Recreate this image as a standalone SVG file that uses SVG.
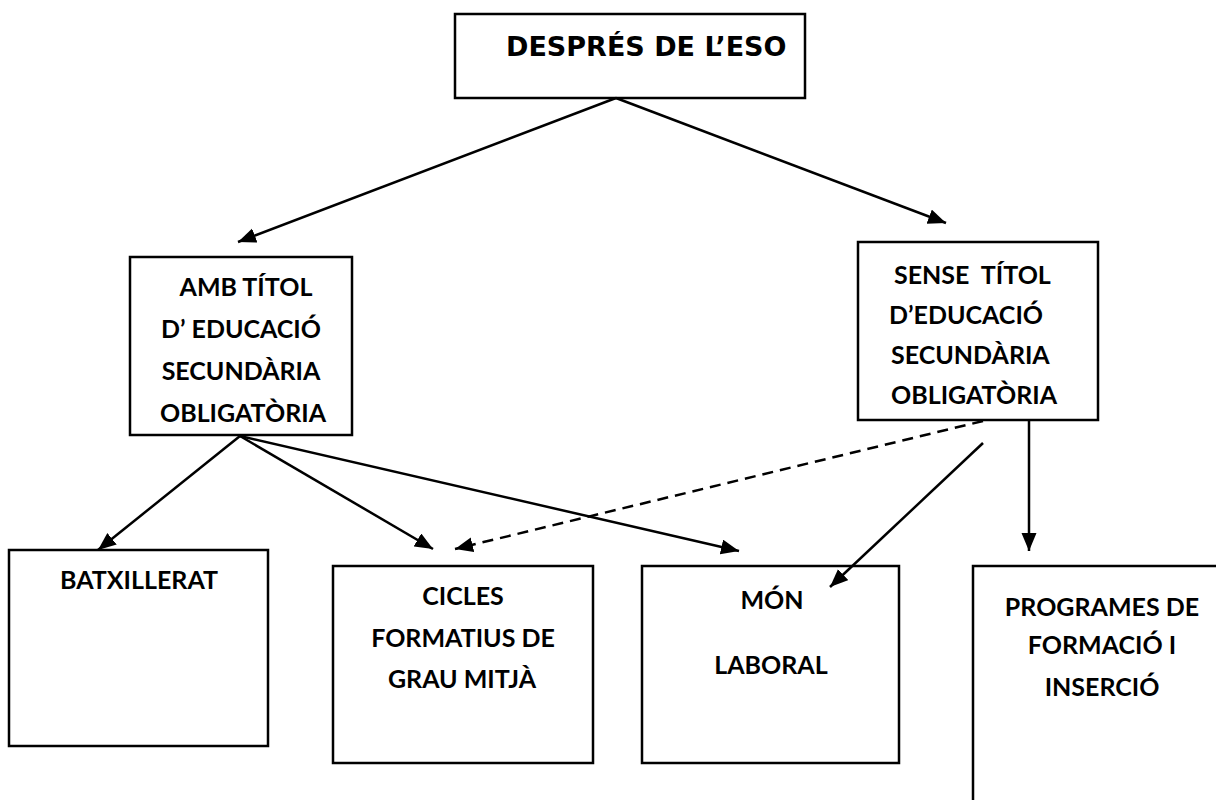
<svg xmlns="http://www.w3.org/2000/svg" width="1216" height="800" viewBox="0 0 1216 800">
<defs>
<marker id="ah" markerUnits="userSpaceOnUse" markerWidth="20" markerHeight="16" refX="18" refY="7.5" orient="auto">
<path d="M0,0 L18,7.5 L0,15 z" fill="#000"/>
</marker>
<style>
.box{fill:none;stroke:#000;stroke-width:2.5}
.t{font-family:Lato,"Liberation Sans",sans-serif;font-weight:bold;font-size:25px;fill:#000;text-anchor:middle}
.ts{font-family:Lato,"Liberation Sans",sans-serif;font-weight:bold;font-size:25px;fill:#000}
.big{font-family:"DejaVu Sans",Verdana,sans-serif;font-weight:bold;font-size:27px;fill:#000}
.c{fill:none;stroke:#000;stroke-width:2.5;marker-end:url(#ah)}
.d{stroke-dasharray:11,7}
</style>
</defs>
<rect width="1216" height="800" fill="#fff"/>
<g id="n-despres">
<rect class="box" x="455" y="14" width="350" height="84"/>
<text class="big" x="506" y="56">DESPRÉS DE L’ESO</text>
</g>
<g id="n-amb">
<rect class="box" x="130" y="257" width="222" height="178"/>
<text class="t" x="246" y="296">AMB TÍTOL</text>
<text class="t" x="241" y="338">D’ EDUCACIÓ</text>
<text class="t" x="241" y="380">SECUNDÀRIA</text>
<text class="t" x="243" y="422">OBLIGATÒRIA</text>
</g>
<g id="n-sense">
<rect class="box" x="858" y="242" width="240" height="178"/>
<text class="ts" x="894" y="284" xml:space="preserve">SENSE  TÍTOL</text>
<text class="ts" x="889" y="324">D’EDUCACIÓ</text>
<text class="ts" x="891" y="364">SECUNDÀRIA</text>
<text class="ts" x="891" y="404">OBLIGATÒRIA</text>
</g>
<g id="n-batx">
<rect class="box" x="9" y="550" width="259" height="196"/>
<text class="t" x="139" y="589">BATXILLERAT</text>
</g>
<g id="n-cicles">
<rect class="box" x="333" y="566" width="260" height="197"/>
<text class="t" x="463" y="605">CICLES</text>
<text class="t" x="463" y="647">FORMATIUS DE</text>
<text class="t" x="462" y="688">GRAU MITJÀ</text>
</g>
<g id="n-mon">
<rect class="box" x="642" y="566" width="257" height="197"/>
<text class="t" x="772" y="609">MÓN</text>
<text class="t" x="771" y="674">LABORAL</text>
</g>
<g id="n-programes">
<path class="box" d="M973,801 V566 H1217"/>
<text class="t" x="1102" y="616">PROGRAMES DE</text>
<text class="t" x="1102" y="654">FORMACIÓ I</text>
<text class="t" x="1102" y="696">INSERCIÓ</text>
</g>
<g id="connectors">
<line class="c" x1="616" y1="98" x2="238" y2="242"/>
<line class="c" x1="616" y1="98" x2="946" y2="223"/>
<line class="c" x1="240" y1="436" x2="98" y2="550"/>
<line class="c" x1="240" y1="436" x2="433" y2="549"/>
<line class="c" x1="240" y1="436" x2="739" y2="551"/>
<line class="c d" x1="983" y1="421" x2="455" y2="549"/>
<line class="c" x1="983" y1="443" x2="830" y2="587"/>
<line class="c" x1="1029" y1="421" x2="1029" y2="551"/>
</g>
</svg>
